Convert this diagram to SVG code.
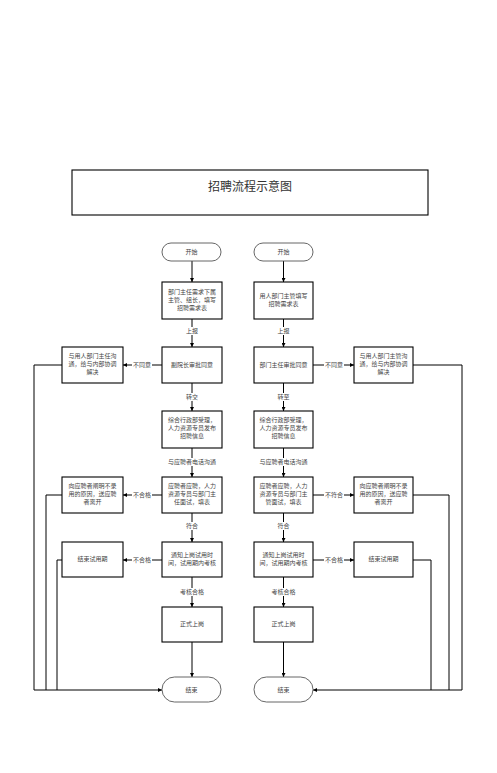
<svg xmlns="http://www.w3.org/2000/svg" width="497" height="773" viewBox="0 0 497 773">
<defs>
<marker id="ah" viewBox="0 0 10 10" refX="10" refY="5" markerWidth="4" markerHeight="4" orient="auto" markerUnits="userSpaceOnUse"><path d="M0,0 L10,5 L0,10 z" fill="#000"/></marker>
<style>
.box{fill:#fff;stroke:#000;stroke-width:1.1}
.term{fill:#fff;stroke:#555;stroke-width:0.9}
.t{font-family:"Liberation Serif","Noto Sans CJK SC",serif;font-size:6px;fill:#444;text-anchor:middle}
.title{font-family:"Liberation Serif","Noto Sans CJK SC",serif;font-size:12px;fill:#333;text-anchor:middle}
.c{fill:none;stroke:#000;stroke-width:1}
.a{marker-end:url(#ah)}
.lb{fill:#fff}
</style>
</defs>
<rect width="497" height="773" fill="#fff"/>
<g id="title"><rect x="72" y="170" width="356" height="45" fill="#fff" stroke="#000" stroke-width="1.1"/><text class="title" x="250" y="191">招聘流程示意图</text></g>

<g id="connectors">
<!-- left column verticals -->
<path class="c a" d="M192,261 V282"/>
<path class="c a" d="M192,319 V347"/>
<path class="c a" d="M192,383 V411"/>
<path class="c a" d="M192,448 V477"/>
<path class="c a" d="M192,513 V542"/>
<path class="c a" d="M192,577 V607"/>
<path class="c a" d="M192,642 V677"/>
<!-- right column verticals -->
<path class="c a" d="M283.5,261 V282"/>
<path class="c a" d="M283.5,319 V347"/>
<path class="c a" d="M283.5,383 V411"/>
<path class="c a" d="M283.5,448 V477"/>
<path class="c a" d="M283.5,513 V542"/>
<path class="c a" d="M283.5,577 V607"/>
<path class="c a" d="M283.5,642 V677"/>
<!-- horizontals to side boxes -->
<path class="c a" d="M162,365 H123"/>
<path class="c a" d="M162,495 H123"/>
<path class="c a" d="M162,560 H123"/>
<path class="c a" d="M313,365 H354"/>
<path class="c a" d="M313,495 H354"/>
<path class="c a" d="M313,560 H354"/>
<!-- outer return lines left -->
<path class="c" d="M62,365 H34 V690"/>
<path class="c" d="M62,495 H46 V690"/>
<path class="c" d="M62,560 H57 V690"/>
<path class="c a" d="M34,690 H162"/>
<!-- outer return lines right -->
<path class="c" d="M413,365 H462 V690"/>
<path class="c" d="M413,495 H449 V690"/>
<path class="c" d="M413,560 H431 V690"/>
<path class="c a" d="M462,690 H313"/>
<!-- labels -->
<rect class="lb" x="182" y="327" width="20" height="8"/><text class="t" x="192" y="333">上报</text>
<rect class="lb" x="273.5" y="327" width="20" height="8"/><text class="t" x="283.5" y="333">上报</text>
<rect class="lb" x="182" y="393" width="20" height="8"/><text class="t" x="192" y="399">转交</text>
<rect class="lb" x="273.5" y="393" width="20" height="8"/><text class="t" x="283.5" y="399">转至</text>
<rect class="lb" x="164" y="458" width="56" height="8"/><text class="t" x="192" y="464">与应聘者电话沟通</text>
<rect class="lb" x="255.5" y="458" width="56" height="8"/><text class="t" x="283.5" y="464">与应聘者电话沟通</text>
<rect class="lb" x="182" y="522" width="20" height="8"/><text class="t" x="192" y="528">符合</text>
<rect class="lb" x="273.5" y="522" width="20" height="8"/><text class="t" x="283.5" y="528">符合</text>
<rect class="lb" x="178" y="588" width="28" height="8"/><text class="t" x="192" y="594">考核合格</text>
<rect class="lb" x="269.5" y="588" width="28" height="8"/><text class="t" x="283.5" y="594">考核合格</text>
<rect class="lb" x="132" y="361" width="20" height="8"/><text class="t" x="142" y="367">不同意</text>
<rect class="lb" x="324" y="361" width="20" height="8"/><text class="t" x="334" y="367">不同意</text>
<rect class="lb" x="132" y="491" width="20" height="8"/><text class="t" x="142" y="497">不合格</text>
<rect class="lb" x="324" y="491" width="20" height="8"/><text class="t" x="334" y="497">不符合</text>
<rect class="lb" x="132" y="556" width="20" height="8"/><text class="t" x="142" y="562">不合格</text>
<rect class="lb" x="324" y="556" width="20" height="8"/><text class="t" x="334" y="562">不合格</text>
</g>

<g id="start-l"><rect class="term" x="162" y="243" width="59" height="18" rx="9"/><text class="t" x="191.5" y="254">开始</text></g>
<g id="start-r"><rect class="term" x="254" y="243" width="59" height="18" rx="9"/><text class="t" x="283.5" y="254">开始</text></g>

<g id="l1"><rect class="box" x="162" y="282" width="60" height="37"/><text class="t" x="192" y="294">部门主任需求下属</text><text class="t" x="192" y="302">主管、组长，填写</text><text class="t" x="192" y="310">招聘需求表</text></g>
<g id="r1"><rect class="box" x="254" y="282" width="59" height="37"/><text class="t" x="283.5" y="298">用人部门主管填写</text><text class="t" x="283.5" y="306">招聘需求表</text></g>

<g id="l2"><rect class="box" x="162" y="347" width="60" height="36"/><text class="t" x="192" y="367">副院长审批同意</text></g>
<g id="r2"><rect class="box" x="254" y="347" width="59" height="36"/><text class="t" x="283.5" y="367">部门主任审批同意</text></g>
<g id="ls2"><rect class="box" x="62" y="347" width="61" height="36"/><text class="t" x="92.5" y="358">与用人部门主任沟</text><text class="t" x="92.5" y="366">通，给与内部协调</text><text class="t" x="92.5" y="374">解决</text></g>
<g id="rs2"><rect class="box" x="354" y="347" width="59" height="36"/><text class="t" x="383.5" y="358">与用人部门主管沟</text><text class="t" x="383.5" y="366">通，给与内部协调</text><text class="t" x="383.5" y="374">解决</text></g>

<g id="l3"><rect class="box" x="162" y="411" width="60" height="37"/><text class="t" x="192" y="422">综合行政部受理，</text><text class="t" x="192" y="430">人力资源专员发布</text><text class="t" x="192" y="438">招聘信息</text></g>
<g id="r3"><rect class="box" x="254" y="411" width="59" height="37"/><text class="t" x="283.5" y="422">综合行政部受理，</text><text class="t" x="283.5" y="430">人力资源专员发布</text><text class="t" x="283.5" y="438">招聘信息</text></g>

<g id="l4"><rect class="box" x="162" y="477" width="60" height="36"/><text class="t" x="192" y="488">应聘者应聘，人力</text><text class="t" x="192" y="496">资源专员与部门主</text><text class="t" x="192" y="504">任面试，填表</text></g>
<g id="r4"><rect class="box" x="254" y="477" width="59" height="36"/><text class="t" x="283.5" y="488">应聘者应聘，人力</text><text class="t" x="283.5" y="496">资源专员与部门主</text><text class="t" x="283.5" y="504">管面试，填表</text></g>
<g id="ls4"><rect class="box" x="62" y="477" width="61" height="36"/><text class="t" x="92.5" y="488">向应聘者阐明不录</text><text class="t" x="92.5" y="496">用的原因，送应聘</text><text class="t" x="92.5" y="504">者离开</text></g>
<g id="rs4"><rect class="box" x="354" y="477" width="59" height="36"/><text class="t" x="383.5" y="488">向应聘者阐明不录</text><text class="t" x="383.5" y="496">用的原因，送应聘</text><text class="t" x="383.5" y="504">者离开</text></g>

<g id="l5"><rect class="box" x="162" y="542" width="60" height="35"/><text class="t" x="192" y="557">通知上岗试用时</text><text class="t" x="192" y="565">间，试用期内考核</text></g>
<g id="r5"><rect class="box" x="254" y="542" width="59" height="35"/><text class="t" x="283.5" y="557">通知上岗试用时</text><text class="t" x="283.5" y="565">间，试用期内考核</text></g>
<g id="ls5"><rect class="box" x="62" y="542" width="61" height="35"/><text class="t" x="92.5" y="561">结束试用期</text></g>
<g id="rs5"><rect class="box" x="354" y="542" width="59" height="35"/><text class="t" x="383.5" y="561">结束试用期</text></g>

<g id="l6"><rect class="box" x="162" y="607" width="60" height="35"/><text class="t" x="192" y="626">正式上岗</text></g>
<g id="r6"><rect class="box" x="254" y="607" width="59" height="35"/><text class="t" x="283.5" y="626">正式上岗</text></g>

<g id="end-l"><rect class="term" x="162" y="677" width="59" height="25" rx="12.5"/><text class="t" x="191.5" y="692">结束</text></g>
<g id="end-r"><rect class="term" x="254" y="677" width="59" height="25" rx="12.5"/><text class="t" x="283.5" y="692">结束</text></g>
</svg>
